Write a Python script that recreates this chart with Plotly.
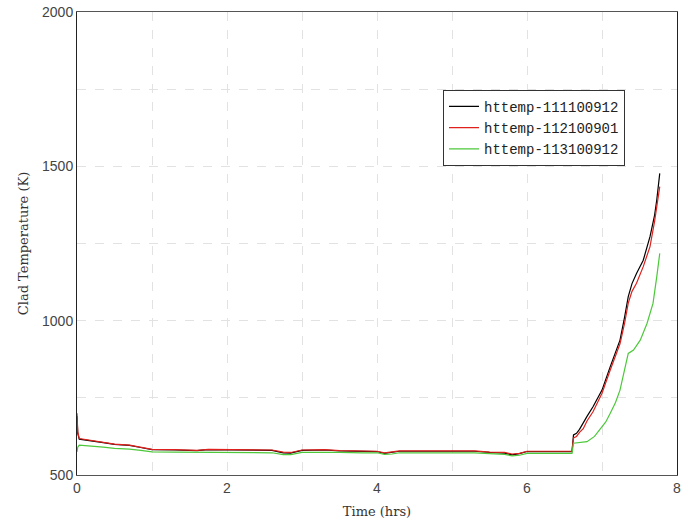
import plotly.graph_objects as go

# Flat (steady) portion times, hrs
t_flat = [0, 0.01, 0.03, 0.1, 0.2, 0.35, 0.5, 0.7, 0.85, 1.0, 1.3, 1.6, 1.75, 2.0, 2.4, 2.6, 2.75,
          2.85, 3.0, 3.3, 3.5, 3.8, 4.0, 4.1, 4.2, 4.3, 4.6, 5.0, 5.3, 5.5, 5.7, 5.8, 5.9, 6.0, 6.3, 6.58]
red_flat = [700, 640, 618, 615, 612, 606, 600, 597, 590, 583, 582, 580, 583, 583, 583, 581, 574,
            573, 581, 582, 579, 578, 577, 572, 574, 578, 578, 578, 578, 574, 573, 568, 570, 577, 577, 577]
black_flat = [690, 635, 616, 614, 611, 605, 599, 596, 589, 582, 581, 579, 582, 582, 582, 580, 572,
              571, 580, 581, 578, 577, 576, 570, 573, 577, 577, 577, 577, 573, 571, 565, 569, 576, 576, 576]
green_flat = [575, 590, 597, 596, 593, 590, 586, 584, 580, 575, 574, 574, 574, 574, 574, 572, 566,
              566, 573, 574, 573, 572, 572, 567, 568, 572, 572, 572, 572, 569, 567, 562, 564, 570, 570, 570]

# Heat-up portion
t_ramp = [6.6, 6.62, 6.66, 6.7, 6.75, 6.8, 6.88, 6.95, 7.0, 7.11, 7.24, 7.3, 7.35, 7.4, 7.46, 7.55,
          7.64, 7.7, 7.73, 7.77]
black_ramp = [576, 630, 635, 648, 667, 690, 721, 750, 775, 851, 937, 1010, 1078, 1120, 1153, 1196,
              1272, 1340, 1391, 1477]
red_ramp = [577, 620, 625, 638, 650, 675, 705, 740, 765, 840, 925, 990, 1057, 1095, 1121, 1175,
            1240, 1320, 1370, 1434]
t_ramp_g = [6.6, 6.62, 6.7, 6.8, 6.9, 6.97, 7.05, 7.11, 7.18, 7.24, 7.3, 7.35, 7.42, 7.51, 7.6,
            7.68, 7.73, 7.77]
green_ramp = [570, 603, 605, 608, 625, 646, 672, 700, 735, 775, 840, 894, 905, 937, 991, 1056,
              1142, 1218]

names = ["httemp-111100912", "httemp-112100901", "httemp-113100912"]
colors = ["#000000", "#e0201c", "#4cc83a"]

fig = go.Figure()
series = [(t_flat + t_ramp, black_flat + black_ramp),
          (t_flat + t_ramp, red_flat + red_ramp),
          (t_flat + t_ramp_g, green_flat + green_ramp)]
for (x, y), n, c in zip(series, names, colors):
    fig.add_trace(go.Scatter(x=x, y=y, mode="lines", name=n,
                             line=dict(color=c, width=1.2)))

grid = dict(showgrid=True, gridcolor="#e2e2e2", griddash="dash", gridwidth=1)
fig.update_layout(
    width=681, height=524,
    margin=dict(l=77, r=4, t=12, b=49),
    plot_bgcolor="white", paper_bgcolor="white",
    font=dict(family="Liberation Sans", size=14, color="#444"),
    xaxis=dict(range=[0, 8], tickvals=[0, 2, 4, 6, 8], ticks="", showline=True,
               linecolor="#555", mirror=True, zeroline=False, automargin=False,
               ticklabeloverflow="allow",
               minor=dict(dtick=1, showgrid=True, gridcolor="#e2e2e2", griddash="dash"),
               title=dict(text="Time (hrs)", font=dict(family="DejaVu Serif", size=13, color="#333"), standoff=12),
               **grid),
    yaxis=dict(range=[500, 2000], tickvals=[500, 1000, 1500, 2000], ticks="", showline=True,
               linecolor="#222", mirror=True, zeroline=False, automargin=False,
               minor=dict(dtick=250, showgrid=True, gridcolor="#e2e2e2", griddash="dash"),
               title=dict(text="Clad Temperature (K)", font=dict(family="DejaVu Serif", size=13, color="#333"), standoff=10),
               **grid),
    legend=dict(x=0.61, y=0.832, xanchor="left", yanchor="top",
                bordercolor="#333", borderwidth=1, bgcolor="white",
                font=dict(family="Liberation Mono", size=14, color="#222"),
                itemwidth=30, tracegroupgap=0),
    showlegend=True,
)
fig.write_html("out.html", config={"displayModeBar": False},
               post_script="document.body.style.margin='0';")
